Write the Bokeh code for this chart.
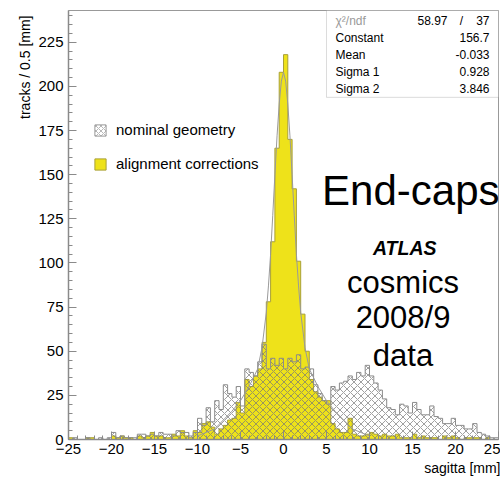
import numpy as np
from bokeh.plotting import figure
from bokeh.models import (Label, BoxAnnotation, Legend, LegendItem, Title,
                          SingleIntervalTicker, Range1d)
from bokeh.embed import file_html
from bokeh.resources import INLINE

# ---------------- data ----------------
bin_width = 0.5
x_start = -25.0

# nominal geometry (hatched), 100 bins of 0.5 mm from -25 to 25
nominal = [
    0, 1, 0, 0, 1, 0, 0, 1, 0, 1,
    4, 1, 2, 1, 1, 1, 3, 3, 2, 3,
    2, 4, 3, 3, 2, 5, 4, 4, 2, 4,
    12, 8, 18, 10, 22, 17, 31, 26, 24, 30,
    19, 40, 38, 36, 44, 54, 40, 46, 42, 46,
    40, 46, 44, 48, 40, 41, 40, 31, 26, 22,
    20, 30, 28, 32, 33, 36, 34, 38, 36, 42,
    36, 32, 28, 23, 18, 17, 14, 20, 19, 15,
    21, 17, 14, 14, 19, 13, 12, 9, 9, 12,
    8, 8, 6, 6, 9, 4, 3, 2, 1, 1,
]

# alignment corrections (yellow)
alignment = [
    1, 0, 0, 0, 1, 1, 0, 0, 0, 0,
    2, 1, 2, 1, 1, 0, 2, 1, 2, 4,
    2, 2, 1, 1, 3, 2, 5, 2, 1, 5,
    4, 9, 10, 7, 3, 6, 8, 11, 12, 21,
    15, 34, 30, 36, 40, 55, 78, 112, 165, 208,
    218, 170, 142, 101, 71, 50, 34, 27, 24, 22,
    22, 9, 6, 4, 4, 12, 3, 2, 2, 3,
    4, 3, 2, 3, 2, 2, 3, 1, 1, 1,
    3, 1, 2, 1, 1, 1, 0, 2, 1, 2,
    1, 0, 1, 1, 1, 1, 0, 1, 0, 0,
]

# fitted double-gaussian curve
fit_x = [-10, -8, -6, -5, -4, -3, -2.5, -2, -1.75, -1.5, -1.25, -1, -0.75, -0.5, -0.25,
         0, 0.25, 0.5, 0.75, 1, 1.25, 1.5, 1.75, 2, 2.5, 3, 4, 5, 6, 8, 10]
fit_y = [2, 6, 16, 22, 30, 40, 52, 72, 87, 105, 127, 150, 172, 190, 203,
         208, 203, 190, 172, 150, 127, 105, 87, 72, 52, 40, 30, 22, 16, 6, 2]

stat_names = ["\u03c7\u00b2/ndf", "Constant", "Mean", "Sigma 1", "Sigma 2"]
stat_values = ["58.97 / 37", "156.7", "-0.033", "0.928", "3.846"]

legend_labels = ["nominal geometry", "alignment corrections"]
big_text = "End-caps"
atlas_text = "ATLAS"
info_lines = ["cosmics", "2008/9", "data"]
x_label = "sagitta [mm]"
y_label = "tracks / 0.5 [mm]"

# ---------------- styling ----------------
FONT = "Liberation Sans"
YELLOW = "#EEE21A"
YELLOW_EDGE = "#A8A038"
GREY = "#8a8a8a"

edges = x_start + bin_width * np.arange(len(nominal) + 1)
nom_ext = list(nominal) + [nominal[-1]]
al_ext = list(alignment) + [alignment[-1]]

p = figure(width=500, height=479, output_backend="svg", toolbar_location=None,
           x_range=Range1d(-25, 25), y_range=Range1d(0, 243),
           min_border_left=68, min_border_right=2, min_border_top=10,
           min_border_bottom=40, title=None)
p.background_fill_color = "white"
p.border_fill_color = "white"
p.outline_line_color = "#999999"
p.xgrid.visible = False
p.ygrid.visible = False

# yellow histogram
p.varea_step(x=edges, y1=0, y2=al_ext, step_mode="after",
             fill_color=YELLOW, fill_alpha=1.0)
p.step(x=edges, y=al_ext, mode="after", line_color=YELLOW_EDGE, line_width=1)

# nominal hatched histogram
p.varea_step(x=edges, y1=0, y2=nom_ext, step_mode="after",
             fill_alpha=0, hatch_pattern="x", hatch_color="#777777",
             hatch_scale=7, hatch_weight=0.7)
p.step(x=edges, y=nom_ext, mode="after", line_color="#8c8c8c", line_width=1)

# fit curve
p.line(fit_x, fit_y, line_color="#9a9a9a", line_width=1)

# legend proxies (same data, hidden; only used to draw the legend swatches)
r_leg_nom = p.quad(left=edges[:-1], right=edges[1:], top=nominal, bottom=0,
                   fill_color="white", line_color="#999999", hatch_pattern="x",
                   hatch_color="#888888", hatch_scale=5, hatch_weight=0.6,
                   visible=False)
r_leg_al = p.quad(left=edges[:-1], right=edges[1:], top=alignment, bottom=0,
                  fill_color=YELLOW, line_color=YELLOW_EDGE, visible=False)

# axes
for ax in (p.xaxis[0], p.yaxis[0]):
    ax.major_tick_in = 8
    ax.major_tick_out = 0
    ax.minor_tick_in = 4
    ax.minor_tick_out = 0
    ax.axis_line_color = GREY
    ax.axis_line_width = 1.5
    ax.major_tick_line_color = GREY
    ax.minor_tick_line_color = GREY
    ax.major_label_text_font = FONT
    ax.major_label_text_font_size = "15px"
    ax.major_label_text_color = "black"
p.xaxis.ticker = SingleIntervalTicker(interval=5, num_minor_ticks=5)
p.yaxis.ticker = SingleIntervalTicker(interval=25, num_minor_ticks=5)
p.xaxis.major_label_standoff = 4
p.yaxis.major_label_standoff = 5

# axis titles (right / top aligned, ROOT style)
p.add_layout(Title(text=x_label, align="right", offset=-2, standoff=2,
                   text_font=FONT, text_font_size="14px",
                   text_font_style="normal", text_color="black"), "below")
p.add_layout(Title(text=y_label, align="right", offset=5, standoff=5,
                   text_font=FONT, text_font_size="14px",
                   text_font_style="normal", text_color="black"), "left")

# legend
legend = Legend(items=[LegendItem(label=legend_labels[0], renderers=[r_leg_nom], index=0),
                       LegendItem(label=legend_labels[1], renderers=[r_leg_al], index=0)],
                location=(25, 267), orientation="vertical",
                glyph_width=14, glyph_height=14, label_height=14,
                spacing=17, padding=0, margin=0, label_standoff=9,
                label_text_font=FONT, label_text_font_size="15px",
                label_text_color="black", border_line_alpha=0,
                background_fill_alpha=0, inactive_fill_alpha=0)
p.add_layout(legend)

# stats box
p.add_layout(BoxAnnotation(left=5.0, right=25, top=243, bottom=193.8,
                           fill_color="white", fill_alpha=1.0,
                           line_color="#8c8c8c", line_width=1))
for i, (nm, vl) in enumerate(zip(stat_names, stat_values)):
    yoff = -(10 + 17.1 * i)
    p.add_layout(Label(x=5.0, y=243, x_offset=9, y_offset=yoff,
                       text=nm, text_align="left", text_baseline="middle",
                       text_font=FONT, text_font_size="12px",
                       text_color="#9a9a9a" if i == 0 else "black"))
    if "/" in vl:
        left_part, right_part = [s.strip() for s in vl.split("/")]
        p.add_layout(Label(x=25, y=243, x_offset=-51, y_offset=yoff,
                           text=left_part, text_align="right", text_baseline="middle",
                           text_font=FONT, text_font_size="12px", text_color="black"))
        p.add_layout(Label(x=25, y=243, x_offset=-37, y_offset=yoff,
                           text="/", text_align="center", text_baseline="middle",
                           text_font=FONT, text_font_size="12px", text_color="black"))
        p.add_layout(Label(x=25, y=243, x_offset=-9, y_offset=yoff,
                           text=right_part, text_align="right", text_baseline="middle",
                           text_font=FONT, text_font_size="12px", text_color="black"))
    else:
        p.add_layout(Label(x=25, y=243, x_offset=-9, y_offset=yoff,
                           text=vl, text_align="right", text_baseline="middle",
                           text_font=FONT, text_font_size="12px", text_color="black"))

# big texts
p.add_layout(Label(x=14.8, y=141.0, text=big_text, text_align="center",
                   text_baseline="alphabetic", text_font=FONT,
                   text_font_size="42px", text_color="black"))
p.add_layout(Label(x=14.1, y=108.2, text=atlas_text, text_align="center",
                   text_baseline="middle", text_font=FONT, text_font_style="bold italic",
                   text_font_size="19.5px", text_color="black"))
for txt, yy in zip(info_lines, [88.9, 69.1, 47.6]):
    p.add_layout(Label(x=13.9, y=yy, text=txt, text_align="center",
                       text_baseline="middle", text_font=FONT,
                       text_font_size="31px", text_color="black"))

open("out.html", "w").write(file_html(p, INLINE))
